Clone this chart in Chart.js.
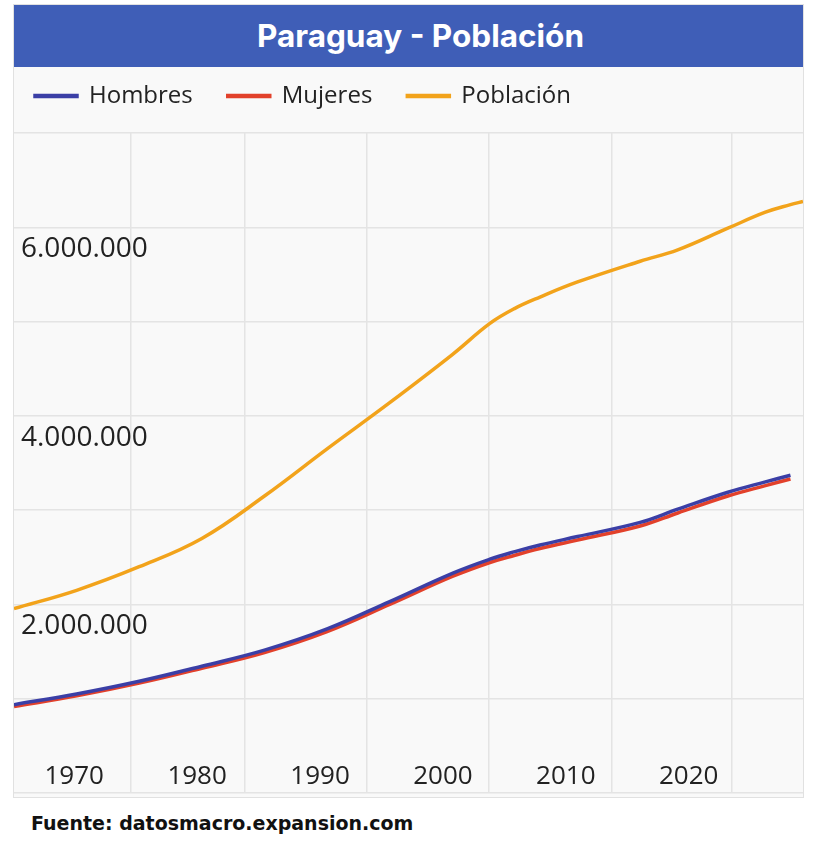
<!DOCTYPE html>
<html lang="es">
<head>
<meta charset="utf-8">
<title>Paraguay - Población</title>
<script src="https://cdn.jsdelivr.net/npm/chart.js@4.4.1/dist/chart.umd.min.js"></script>
<style>
  html, body { margin: 0; padding: 0; background: #ffffff; }
  body { width: 819px; height: 860px; position: relative; overflow: hidden; }
  #box {
    position: absolute; left: 13px; top: 4px; width: 791px; height: 794px;
    box-sizing: border-box; border: 1px solid #e1e1e1; background: #f9f9f9;
  }
  #title {
    position: absolute; left: 14px; top: 5px; width: 789px; height: 62px;
    box-sizing: border-box; padding-left: 24px;
    background: #3f5eb7; color: #ffffff; text-align: center;
    font: 700 31.5px Inter, "Open Sans", sans-serif; line-height: 62px;
  }
  #chart { position: absolute; left: 0; top: 49px; }
  #source {
    position: absolute; left: 31px; top: 813px; color: #111111;
    font: 700 19px "DejaVu Sans", sans-serif; line-height: 20px;
  }
</style>
</head>
<body>
<div id="box"></div>
<div id="title">Paraguay - Población</div>
<canvas id="chart" width="805" height="746"></canvas>
<div id="source">Fuente: datosmacro.expansion.com</div>

<script>
// Years of the readings (men/women stop one year before the total)
const YEARS = [1960, 1965, 1970, 1975, 1980, 1985, 1990, 1995, 1998, 2000,
               2002, 2005, 2010, 2013, 2017, 2020, 2022, 2023];

const HOMBRES = [937000, 1050000, 1185000, 1345000, 1515000, 1740000, 2030000,
                 2330000, 2480000, 2560000, 2630000, 2720000, 2870000, 3010000,
                 3190000, 3300000, 3370000, null];

const MUJERES = [917000, 1030000, 1165000, 1323000, 1490000, 1712000, 2000000,
                 2297000, 2445000, 2522000, 2593000, 2683000, 2832000, 2970000,
                 3150000, 3260000, 3330000, null];

const POBLACION = [1955000, 2150000, 2400000, 2700000, 3150000, 3650000, 4140000,
                   4650000, 4980000, 5140000, 5260000, 5420000, 5640000, 5760000,
                   5990000, 6160000, 6240000, 6274000];

// Axis labels as printed under the plot
const YEAR_LABELS = [1970, 1980, 1990, 2000, 2010, 2020];
const GRID_YEARS = [1969.3, 1978.4, 1988.2, 1997.9, 2007.7, 2017.3];
const Y_MAX = 7000000;

const GRID_COLOR = '#e4e4e4';
const TEXT_COLOR = '#222222';

function toPoints(values) {
    return YEARS.map((year, i) => ({ x: year, y: values[i] }));
}

function series(label, values, color) {
    return {
        label: label,
        data: toPoints(values),
        borderColor: color,
        backgroundColor: color,
        borderWidth: 3.5,
        pointRadius: 0,
        pointHoverRadius: 0,
        tension: 0.4,
        fill: false
    };
}

function formatMillions(value) {
    return String(value).replace(/\B(?=(\d{3})+(?!\d))/g, '.');
}

// Legend keeps its wide item spacing but gets a fixed height
const legendHeight = {
    id: 'legendHeight',
    beforeInit(chart) {
        const fit = chart.legend.fit;
        chart.legend.fit = function () {
            fit.bind(chart.legend)();
            this.height = 84;
        };
    }
};

const ctx = document.getElementById('chart').getContext('2d');

new Chart(ctx, {
    type: 'line',
    data: {
        datasets: [
            series('Hombres', HOMBRES, '#3b3fa6'),
            series('Mujeres', MUJERES, '#e2412b'),
            series('Población', POBLACION, '#f2a31b')
        ]
    },
    options: {
        responsive: false,
        animation: false,
        layout: { padding: { right: 2 } },
        plugins: {
            legend: {
                position: 'top',
                align: 'start',
                labels: {
                    boxWidth: 42,
                    boxHeight: 1,
                    padding: 35,
                    color: TEXT_COLOR,
                    font: { family: 'Open Sans', size: 24 }
                }
            },
            title: { display: false },
            tooltip: { enabled: false }
        },
        scales: {
            x: {
                type: 'linear',
                position: 'bottom',
                min: 1960,
                max: 2023,
                afterBuildTicks: scale => {
                    scale.ticks = GRID_YEARS.map(v => ({ value: v }));
                },
                ticks: { display: false },
                grid: { color: GRID_COLOR, lineWidth: 1.5, drawTicks: false },
                border: { display: false }
            },
            xYears: {
                type: 'linear',
                position: 'bottom',
                min: 1965.1,
                max: 2029.3,
                afterBuildTicks: scale => {
                    scale.ticks = YEAR_LABELS.map(v => ({ value: v }));
                },
                ticks: {
                    mirror: true,
                    padding: 1,
                    autoSkip: false,
                    maxRotation: 0,
                    color: TEXT_COLOR,
                    font: { family: 'Open Sans', size: 26 },
                    callback: v => String(v)
                },
                grid: { display: false, drawTicks: false },
                border: { display: false },
                afterFit: scale => {
                    scale.paddingLeft = 0;
                    scale.paddingRight = 0;
                }
            },
            y: {
                min: 0,
                max: Y_MAX,
                ticks: {
                    stepSize: 1000000,
                    mirror: true,
                    padding: 7,
                    labelOffset: 22,
                    color: TEXT_COLOR,
                    font: { family: 'Open Sans', size: 28 },
                    callback: v => (v > 0 && v % 2000000 === 0) ? formatMillions(v) : ''
                },
                grid: { color: GRID_COLOR, lineWidth: 1.5, drawTicks: false },
                border: { display: false },
                afterFit: scale => {
                    scale.paddingTop = 0;
                    scale.paddingBottom = 0;
                }
            }
        }
    },
    plugins: [legendHeight]
});
</script>
</body>
</html>
